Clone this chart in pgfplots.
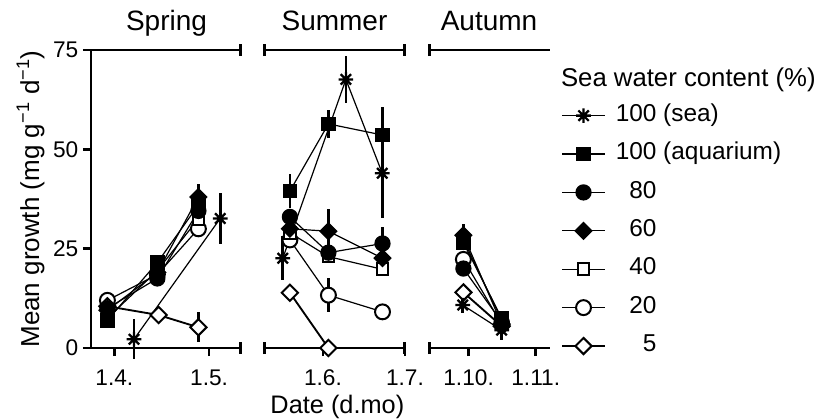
\documentclass[border=0pt]{standalone}
\usepackage{fontspec}
\setmainfont{Liberation Sans}
\usepackage{pgfplots}
\pgfplotsset{compat=1.18}
\usetikzlibrary{arrows.meta}

% eight-ray asterisk
\pgfdeclareplotmark{ast8}{%
  \pgfpathmoveto{\pgfqpoint{-\pgfplotmarksize}{0pt}}\pgfpathlineto{\pgfqpoint{\pgfplotmarksize}{0pt}}%
  \pgfpathmoveto{\pgfqpoint{0pt}{-\pgfplotmarksize}}\pgfpathlineto{\pgfqpoint{0pt}{\pgfplotmarksize}}%
  \pgfpathmoveto{\pgfqpoint{-.707\pgfplotmarksize}{-.707\pgfplotmarksize}}\pgfpathlineto{\pgfqpoint{.707\pgfplotmarksize}{.707\pgfplotmarksize}}%
  \pgfpathmoveto{\pgfqpoint{-.707\pgfplotmarksize}{.707\pgfplotmarksize}}\pgfpathlineto{\pgfqpoint{.707\pgfplotmarksize}{-.707\pgfplotmarksize}}%
  \pgfusepathqstroke}

\pgfplotsset{
  s-sea/.style={black, line width=0.9pt, mark=ast8, mark size=5.5pt, mark options={solid, line width=1.7pt}},
  s-aq/.style={black, line width=0.9pt, mark=square*, mark size=5pt, mark options={solid, fill=black, line width=1pt}},
  s-80/.style={black, line width=0.9pt, mark=*, mark size=5.6pt, mark options={solid, fill=black, line width=1pt}},
  s-60/.style={black, line width=0.9pt, mark=square*, mark size=4.4pt, mark options={solid, fill=black, rotate=45, line width=1pt}},
  s-40/.style={black, line width=0.9pt, mark=square*, mark size=4.4pt, mark options={solid, fill=white, line width=1.5pt}},
  s-20/.style={black, line width=0.9pt, mark=*, mark size=5.6pt, mark options={solid, fill=white, line width=1.5pt}},
  s-5/.style={black, line width=1.4pt, mark=square*, mark size=4.3pt, mark options={solid, fill=white, rotate=45, line width=1.5pt}},
  eb/.style={forget plot, error bars/y dir=both, error bars/y explicit, error bars/error mark=none,
    error bars/error bar style={line width=2pt, solid, black}},
  panel/.style={scale only axis, height=223.5pt, ymin=0, ymax=75, clip=false,
    axis x line*=bottom, tick align=outside, major tick length=6pt,
    tick style={line width=2pt, black}, axis line style={line width=2pt},
    tick label style={font=\fontsize{17}{20}\selectfont},
    xticklabel style={yshift=-7pt},
    /pgf/number format/assume math mode=true,
    title style={font=\fontsize{21}{25}\selectfont, at={(0.5,1)}, anchor=base, yshift=9pt},
    label style={font=\fontsize{19}{23}\selectfont}},
}

\begin{document}
\begin{tikzpicture}
\path[use as bounding box] (-68.25pt,-53.25pt) rectangle (548.25pt,261pt);

% ---------- Spring ----------
\begin{axis}[panel, at={(0pt,0pt)}, anchor=south west, width=113.25pt,
  xmin=83.6, xmax=131.4, xtick={91,121}, xticklabels={1.4.,1.5.},
  axis y line*=left, ytick={0,25,50,75},
  x axis line style={-{Bar[width=9pt]}},
  title={Spring},
  ylabel={Mean growth (mg g\textsuperscript{−1} d\textsuperscript{−1})},
  ylabel style={at={(axis description cs:-0.40,0.5)}, anchor=center, font=\fontsize{19.5}{23}\selectfont}]
\draw[line width=2pt, -{Bar[width=9pt]}] (rel axis cs:0,1) -- (rel axis cs:1,1);
\addplot[s-20, eb] table[y error=e] {
x y e
88.8 12.0 0
104.6 18.5 0
117.6 30.0 0
};
\addplot[s-5, eb] table[y error=e] {
x y e
88.8 10.5 0
105.0 8.3 0
117.6 5.2 3.8
};
\addplot[s-40, eb] table[y error=e] {
x y e
88.8 7.5 0
104.6 19.5 0
117.6 32.5 0
};
\addplot[s-sea, eb] table[y error=e] {
x y e
97.2 2.2 5.0
124.5 32.6 6.3
};
\addplot[s-80, eb] table[y error=e] {
x y e
88.8 10.0 0
104.6 17.5 0
117.6 34.5 0
};
\addplot[s-aq, eb] table[y error=e] {
x y e
88.8 7.0 0
104.6 21.5 0
117.6 36.0 0
};
\addplot[s-60, eb] table[y error=e] {
x y e
88.8 9.5 0
104.6 19.0 0
117.6 38.0 3.2
};
\end{axis}

% ---------- Summer ----------
\begin{axis}[panel, at={(129pt,0pt)}, anchor=south west, width=107.25pt,
  xmin=130.05, xmax=182.4, xtick={152,182}, xticklabels={1.6.,1.7.},
  axis y line=none, ytick=\empty,
  x axis line style={{Bar[width=9pt]}-{Bar[width=9pt]}},
  title={Summer},
  xlabel={Date (d.mo)},
  xlabel style={at={(axis description cs:0.52,0)}, anchor=base, yshift=-49pt}]
\draw[line width=2pt, {Bar[width=9pt]}-{Bar[width=9pt]}] (rel axis cs:0,1) -- (rel axis cs:1,1);
\addplot[s-20, eb] table[y error=e] {
x y e
139.9 27.2 0
154.0 13.3 4.2
173.8 9.1 0
};
\addplot[s-5, eb] table[y error=e] {
x y e
139.9 13.9 0
154.0 0.0 0
};
\addplot[s-40, eb] table[y error=e] {
x y e
139.9 29.0 0
154.0 23.0 0
173.8 19.8 0
};
\addplot[s-sea, eb] table[y error=e] {
x y e
137.3 22.6 5.5
160.4 67.6 6.0
173.7 44.0 11.4
};
\addplot[s-80, eb] table[y error=e] {
x y e
139.9 33.0 0
154.0 24.0 0
173.8 26.3 4.2
};
\addplot[s-aq, eb] table[y error=e] {
x y e
139.9 39.5 4.3
154.0 56.4 3.6
173.8 53.6 7.0
};
\addplot[s-60, eb] table[y error=e] {
x y e
139.9 30.0 0
154.0 29.4 5.7
173.8 22.6 0
};
\end{axis}

% ---------- Autumn ----------
\begin{axis}[panel, at={(252.75pt,0pt)}, anchor=south west, width=91.5pt,
  xmin=255.25, xmax=311.6, xtick={274,305}, xticklabels={1.10.,1.11.},
  axis y line=none, ytick=\empty,
  x axis line style={{Bar[width=9pt]}-},
  title={Autumn},
  legend image code/.code={\draw[mark repeat=2,mark phase=2] plot coordinates {(0pt,0pt) (16pt,0pt) (32pt,0pt)};},
  legend style={at={(axis description cs:1.09,0.8154)}, anchor=north west, draw=none, fill=none,
    font=\fontsize{18.3}{21}\selectfont, row sep=13.3pt, inner sep=0pt,
    nodes={inner sep=0pt, text height=12pt, text depth=3.5pt},
    /tikz/every odd column/.append style={column sep=7.5pt}},
  legend cell align=left]
\draw[line width=2pt, {Bar[width=9pt]}-] (rel axis cs:0,1) -- (rel axis cs:1,1);
\addplot[s-20, eb] table[y error=e] {
x y e
271.6 22.3 0
289.3 6.0 0
};
\addplot[s-5, eb] table[y error=e] {
x y e
271.6 14.0 0
289.3 5.5 0
};
\addplot[s-40, eb] table[y error=e] {
x y e
271.6 27.3 0
289.3 7.0 0
};
\addplot[s-sea, eb] table[y error=e] {
x y e
271.3 10.8 2.0
289.3 4.5 2.5
};
\addplot[s-80, eb] table[y error=e] {
x y e
271.6 20.0 0
289.3 6.5 0
};
\addplot[s-aq, eb] table[y error=e] {
x y e
271.6 26.5 0
289.3 7.5 0
};
\addplot[s-60, eb] table[y error=e] {
x y e
271.6 28.4 2.8
289.3 6.0 0
};
\addlegendimage{s-sea}\addlegendentry{100 (sea)}
\addlegendimage{s-aq}\addlegendentry{100 (aquarium)}
\addlegendimage{s-80}\addlegendentry{\phantom{1}80}
\addlegendimage{s-60}\addlegendentry{\phantom{1}60}
\addlegendimage{s-40}\addlegendentry{\phantom{1}40}
\addlegendimage{s-20}\addlegendentry{\phantom{1}20}
\addlegendimage{s-5}\addlegendentry{\phantom{10}5}
\end{axis}

\node[anchor=base west, font=\fontsize{19.3}{23}\selectfont] at (349pt,196.5pt) {Sea water content (\%)};
\end{tikzpicture}
\end{document}
